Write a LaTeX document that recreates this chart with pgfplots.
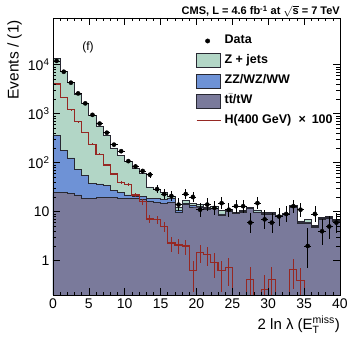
\documentclass[border=0pt]{standalone}
\usepackage{amsmath}
\usepackage{fontspec}
\setmainfont{Liberation Sans}
\usepackage{pgfplots}
\pgfplotsset{compat=1.18}
\definecolor{zjets}{RGB}{178,214,198}
\definecolor{zzcol}{RGB}{110,146,214}
\definecolor{ttcol}{RGB}{122,122,155}
\definecolor{sigred}{RGB}{150,40,35}
\definecolor{edge}{RGB}{40,40,50}

% stacked tops: T = tt+VV+Zjets, B = tt+VV, P = tt (bin lower edge, value)
\pgfplotstableread{
x T B P
0 13500 355 24.6
1 7300 180 24.5
2 4300 125 24
3 2500 74 22
4 1600 54 19
5 920 38 18.5
6 540 37 19.5
7 360 34 19.5
8 200 27 19.5
9 140 25 19
10 105 22 18.5
11 78 21 18.5
12 62 20.5 18
13 32 19 16
14 29 18.5 15.5
15 25 18 15
16 21 18.5 15.5
17 12 10.5 9.6
18 17 15 14
19 14.5 13.2 12.5
20 14 13 12.5
21 12.3 11.5 11.2
22 12.6 11.8 11.5
23 10.5 9.0 8.6
24 11 10.5 10.2
25 9.7 9.4 9.1
26 10.5 10.1 9.8
27 12.3 11.9 11.6
28 10.9 9.9 9.6
29 9.6 9.3 9.0
30 9.6 9.3 9.0
31 8.6 8.3 8.0
32 9.4 9.1 8.8
33 13.5 12.8 12.5
34 6.5 6.1 5.9
35 7.0 6.1 5.9
36 5.2 5.0 4.8
37 7.6 7.3 7.1
38 7.9 7.6 7.4
39 7.0 6.6 6.4
40 7.0 6.6 6.4
}\stacktab

% H(400 GeV) x 100
\pgfplotstableread{
x h
0 4050
1 2150
2 1200
3 690
4 415
5 240
6 150
7 90
8 59
9 40
10 36
11 22
12 16
13 7.1
14 6.9
15 5.0
16 2.3
17 2.1
18 2.0
19 0.62
20 1.5
21 1.35
22 0.93
23 0.62
24 0.73
25 0.01
26 0.01
27 0.42
28 0.01
29 0.26
30 0.41
31 0.01
32 0.01
33 0.67
34 0.40
35 0.01
36 0.01
37 0.01
38 0.01
39 0.01
40 0.01
}\higgstab

\pgfplotstableread{
x h e
0.5 4050 31.8
1.5 2150 23.2
2.5 1200 17.3
3.5 690 13.1
4.5 415 10.2
5.5 240 7.7
6.5 150 6.1
7.5 90 4.7
8.5 59 3.8
9.5 40 3.2
10.5 36 3.0
11.5 22 2.3
12.5 16 2.0
13.5 7.1 1.33
14.5 6.9 1.31
15.5 5.0 1.12
16.5 2.3 0.76
17.5 2.1 0.72
18.5 2.0 0.71
19.5 0.62 0.39
20.5 1.5 0.61
21.5 1.35 0.58
22.5 0.93 0.48
23.5 0.62 0.39
24.5 0.73 0.43
27.5 0.42 0.32
29.5 0.26 0.25
30.5 0.41 0.32
33.5 0.67 0.41
34.5 0.40 0.32
}\higgserr

% data with Poisson errors
\pgfplotstableread{
x y em ep
0.5 12000 110 110
1.5 7200 85 85
2.5 4300 66 66
3.5 2600 51 51
4.5 1630 40 40
5.5 950 31 31
6.5 630 25 25
7.5 410 20 20
8.5 234 15 15
9.5 172 13 13
10.5 108 10.4 10.4
11.5 84 9.2 9.2
12.5 68 8.2 8.2
13.5 57 7.5 8.6
14.5 29 5.35 6.49
15.5 23 4.76 5.90
16.5 21 4.55 5.67
17.5 14 3.70 4.83
18.5 23 4.76 5.90
19.5 20 4.43 5.56
20.5 11 3.26 4.42
21.5 14 3.70 4.83
22.5 12 3.41 4.56
23.5 15 3.83 4.96
24.5 11 3.26 4.42
25.5 13 3.56 4.70
26.5 13 3.56 4.70
27.5 6 2.38 3.58
28.5 15 3.83 4.96
29.5 7 2.58 3.77
30.5 6 2.38 3.58
31.5 8 2.77 3.95
32.5 9 2.94 4.11
33.5 13 3.56 4.70
34.5 11 3.26 4.42
35.5 2 1.29 2.64
36.5 9 2.94 4.11
37.5 4 1.91 3.16
38.5 5 2.16 3.38
39.5 6 2.38 3.58
}\datatab

\begin{document}
\begin{tikzpicture}
\begin{axis}[
    scale only axis, width=287pt, height=277pt,
    xmin=0, xmax=40,
    ymode=log, ymin=0.2, ymax=9e4,
    xtick={0,5,...,40}, minor x tick num=4,
    ytick={1,10,100,1000,10000},
    yticklabels={1,10,10\textsuperscript{2},10\textsuperscript{3},10\textsuperscript{4}},
    tick label style={font=\fontsize{14}{16}\selectfont},
    /pgf/number format/assume math mode=true,
    axis on top,
    major tick length=7pt, minor tick length=3.5pt,
    tick style={line width=0.6pt, color=black},
    axis line style={line width=0.8pt},
    legend style={at={(rel axis cs:0.498,0.943)}, anchor=north west,
        draw=none, fill=none, inner sep=0pt,
        font=\fontsize{12.5}{14}\selectfont\bfseries,
        row sep=5.5pt, column sep=3.5pt,
        nodes={inner sep=0pt, text height=9pt, text depth=3pt}},
    legend cell align=left,
]
  \addlegendimage{legend image code/.code={\path[draw=none, fill=none] (0pt,-7pt) rectangle (24pt,7pt); \fill[black] (11pt,0pt) circle (2.2pt);}}
  \addlegendentry{Data}
  \addlegendimage{legend image code/.code={\draw[fill=zjets, draw=edge, line width=0.6pt] (0pt,-7pt) rectangle (24pt,7pt);}}
  \addlegendentry{Z + jets}
  \addlegendimage{legend image code/.code={\draw[fill=zzcol, draw=edge, line width=0.6pt] (0pt,-7pt) rectangle (24pt,7pt);}}
  \addlegendentry{ZZ/WZ/WW}
  \addlegendimage{legend image code/.code={\draw[fill=ttcol, draw=edge, line width=0.6pt] (0pt,-7pt) rectangle (24pt,7pt);}}
  \addlegendentry{t$\bar{\text{t}}$/tW}
  \addlegendimage{legend image code/.code={\path[draw=none, fill=none] (0pt,-7pt) rectangle (24pt,7pt); \draw[draw=sigred, line width=1pt] (0pt,0pt) -- (24pt,0pt);}}
  \addlegendentry{H(400 GeV)\hspace{0.3em} × \hspace{0.2em}100}

  % stacked backgrounds
  \addplot[const plot, fill=zjets, draw=edge, line width=0.8pt, forget plot]
    table[x=x, y=T] {\stacktab} |- (axis cs:0,0.05) -- cycle;
  \addplot[const plot, fill=zzcol, draw=edge, line width=0.8pt, forget plot]
    table[x=x, y=B] {\stacktab} |- (axis cs:0,0.05) -- cycle;
  \addplot[const plot, fill=ttcol, draw=edge, line width=0.8pt, forget plot]
    table[x=x, y=P] {\stacktab} |- (axis cs:0,0.05) -- cycle;

  % signal
  \addplot[const plot, draw=sigred, color=sigred, mark=none, line width=1.1pt, forget plot]
    table[x=x, y=h] {\higgstab};
  \addplot[draw=none, mark=none, forget plot,
    error bars/.cd, y dir=both, y explicit, error mark=none,
    error bar style={draw=sigred, line width=0.8pt}]
    table[x=x, y=h, y error=e] {\higgserr};

  % data
  \addplot[only marks, mark=*, mark size=2.1pt, black, forget plot,
    error bars/.cd, x dir=both, x fixed=0.5, y dir=both, y explicit,
    error mark=none, error bar style={black, line width=0.6pt}]
    table[x=x, y=y, y error plus=ep, y error minus=em] {\datatab};

  \node[font=\fontsize{12}{14}\selectfont] at (rel axis cs:0.122,0.895) {(f)};
\end{axis}
\node[anchor=base east, font=\fontsize{11}{13}\selectfont\bfseries, inner sep=0pt]
  at ([yshift=3pt]current axis.north east)
  {CMS, L = 4.6 fb$^{\text{-1}}$ at $\sqrt{\text{s}}$ = 7 TeV};
\node[anchor=south east, rotate=90, font=\fontsize{15.5}{17}\selectfont, inner sep=0pt]
  at ([xshift=-31pt, yshift=-2pt]current axis.north west) {Events / (1)};
\node[anchor=north east, font=\fontsize{15}{17}\selectfont, inner sep=0pt]
  at ([yshift=-21pt]current axis.south east) {2 ln λ (E$^{\text{miss}}_{\text{T}}$)};
\pgfresetboundingbox
\path ([shift={(-53pt,-52pt)}]current axis.south west)
  rectangle ([shift={(17pt,18pt)}]current axis.north east);
\end{tikzpicture}
\end{document}
